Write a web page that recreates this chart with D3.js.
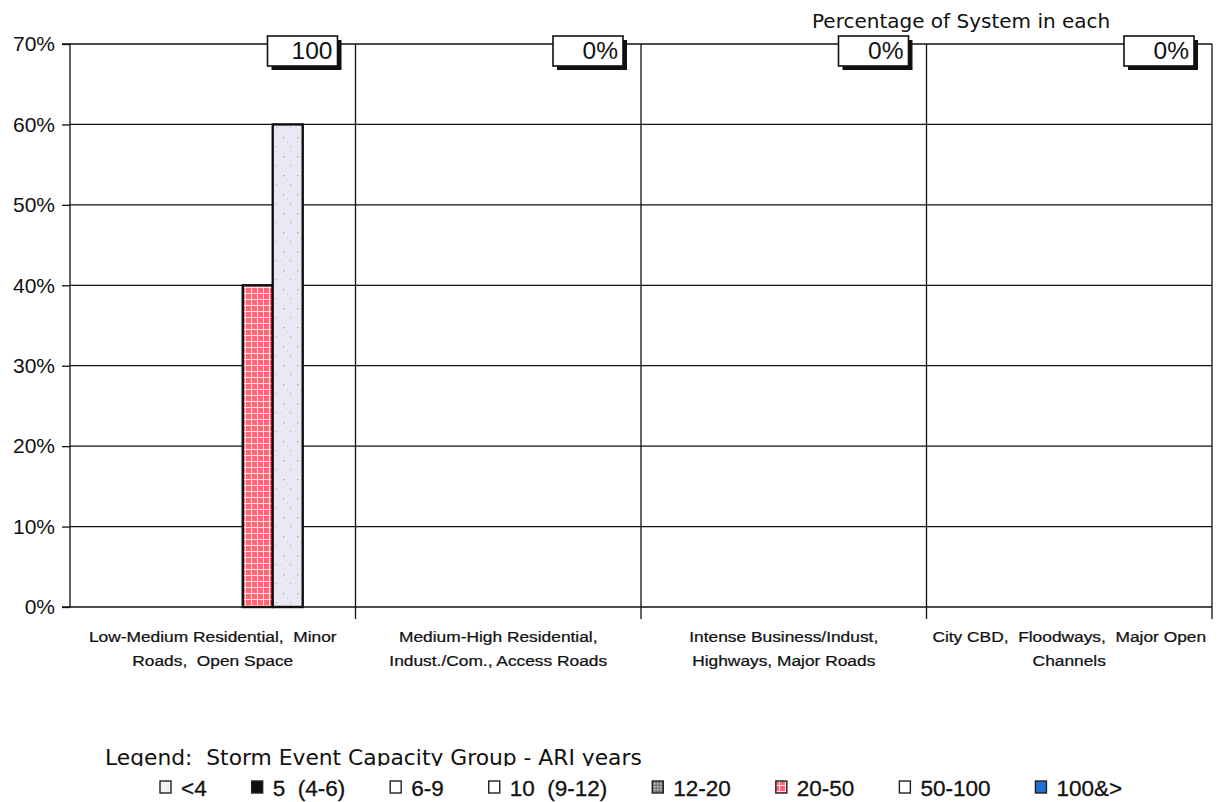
<!DOCTYPE html>
<html><head><meta charset="utf-8">
<script src="https://cdn.jsdelivr.net/npm/d3@7"></script>
<style>html,body{margin:0;padding:0;background:#fff;}svg{display:block;}</style>
</head><body>
<script>
const categories = [
  ["Low-Medium Residential,  Minor", "Roads,  Open Space"],
  ["Medium-High Residential,", "Indust./Com., Access Roads"],
  ["Intense Business/Indust,", "Highways, Major Roads"],
  ["City CBD,  Floodways,  Major Open", "Channels"]
];
const series = ["<4", "5  (4-6)", "6-9", "10  (9-12)", "12-20", "20-50", "50-100", "100&>"];
const values = [
  [0, 0, 0, 0, 0, 40, 60, 0],
  [0, 0, 0, 0, 0, 0, 0, 0],
  [0, 0, 0, 0, 0, 0, 0, 0],
  [0, 0, 0, 0, 0, 0, 0, 0]
];
const totalLabels = ["100", "0%", "0%", "0%"];
const yTicks = [0, 10, 20, 30, 40, 50, 60, 70];
const titleText = "Percentage of System in each";
const legendTitle = "Legend:  Storm Event Capacity Group - ARI years";

const W = 1218, H = 802;
const svg = d3.select("body").append("svg").attr("width", W).attr("height", H);
const defs = svg.append("defs");

// patterns
const pRed = defs.append("pattern").attr("id", "pRed").attr("patternUnits", "userSpaceOnUse")
  .attr("width", 6).attr("height", 6);
pRed.append("rect").attr("width", 6).attr("height", 6).attr("fill", "#fbe9ec");
pRed.append("rect").attr("width", 5).attr("height", 5).attr("fill", "#ff6673");
const pLav = defs.append("pattern").attr("id", "pLav").attr("patternUnits", "userSpaceOnUse")
  .attr("width", 14).attr("height", 19);
pLav.append("rect").attr("width", 14).attr("height", 19).attr("fill", "#e9e9f5");
pLav.append("rect").attr("x", 3).attr("y", 4).attr("width", 1.3).attr("height", 1.3).attr("fill", "#f07c8c");
pLav.append("rect").attr("x", 10).attr("y", 13).attr("width", 1.3).attr("height", 1.3).attr("fill", "#f5a0ae");
pLav.append("rect").attr("x", 7).attr("y", 9).attr("width", 1).attr("height", 1).attr("fill", "#f4b4c0");
const pGray = defs.append("pattern").attr("id", "pGray").attr("patternUnits", "userSpaceOnUse")
  .attr("width", 3).attr("height", 3);
pGray.append("rect").attr("width", 3).attr("height", 3).attr("fill", "#777");
pGray.append("rect").attr("width", 1.5).attr("height", 1.5).attr("fill", "#ccc");

const fills = ["#f0f0f0", "#111", "#fff", "#fff", "url(#pGray)", "url(#pRed)", "#fff", "#1f6fd6"];
const barFills = ["#f0f0f0", "#111", "#fff", "#fff", "url(#pGray)", "url(#pRed)", "url(#pLav)", "#1f6fd6"];

const plot = {left: 70, right: 1212, top: 44, bottom: 607};
const x = d3.scaleBand().domain(d3.range(categories.length)).range([plot.left, plot.right]);
const xs = d3.scaleBand().domain(d3.range(series.length)).range([0, x.bandwidth()])
  .paddingInner(0).paddingOuter(0.76);
const y = d3.scaleLinear().domain([0, 70]).range([plot.bottom, plot.top]);

// gridlines
svg.append("g").selectAll("line").data(yTicks.filter(d => d > 0)).join("line")
  .attr("x1", plot.left).attr("x2", plot.right)
  .attr("y1", d => y(d)).attr("y2", d => y(d))
  .attr("stroke", "#111").attr("stroke-width", 1.3);

// vertical separators
svg.append("g").selectAll("line").data(d3.range(1, categories.length + 1)).join("line")
  .attr("x1", d => d < categories.length ? x(d) : plot.right)
  .attr("x2", d => d < categories.length ? x(d) : plot.right)
  .attr("y1", plot.top).attr("y2", plot.bottom + 12)
  .attr("stroke", "#111").attr("stroke-width", 1.3);

// y axis
const yAxis = d3.axisLeft(y).tickValues(yTicks).tickFormat(d => d + "%").tickSize(8).tickPadding(7);
const gy = svg.append("g").attr("transform", `translate(${plot.left},0)`).call(yAxis);
gy.select(".domain").attr("stroke", "#111").attr("stroke-width", 1.3).attr("d", `M-8,${plot.top}H0V${plot.bottom}`);
gy.selectAll(".tick line").attr("stroke", "#111").attr("stroke-width", 1.3);
gy.selectAll("text").attr("font-family", "Liberation Sans, Arial, sans-serif").attr("font-size", 21).attr("fill", "#111");

// x axis baseline
svg.append("line").attr("x1", plot.left - 8).attr("x2", plot.right)
  .attr("y1", plot.bottom).attr("y2", plot.bottom).attr("stroke", "#111").attr("stroke-width", 1.5);

// bars
const gBars = svg.append("g");
values.forEach((vals, ci) => {
  gBars.selectAll(null).data(vals.map((v, si) => ({v, si})).filter(d => d.v > 0)).join("rect")
    .attr("x", d => x(ci) + xs(d.si))
    .attr("width", xs.bandwidth())
    .attr("y", d => y(d.v))
    .attr("height", d => y(0) - y(d.v))
    .attr("fill", d => barFills[d.si])
    .attr("stroke", "#111").attr("stroke-width", 2.4);
});

// total label boxes
const gBox = svg.append("g");
totalLabels.forEach((t, ci) => {
  const bw = 70, bh = 30, bx = x(ci) + x.bandwidth() - 18 - bw, by = 36;
  gBox.append("rect").attr("x", bx + 4).attr("y", by + 4).attr("width", bw).attr("height", bh).attr("fill", "#111");
  gBox.append("rect").attr("x", bx).attr("y", by).attr("width", bw).attr("height", bh)
    .attr("fill", "#fff").attr("stroke", "#111").attr("stroke-width", 1.6);
  gBox.append("text").attr("x", bx + bw - 5).attr("y", by + 23).attr("text-anchor", "end")
    .attr("font-family", "Liberation Sans, Arial, sans-serif").attr("font-size", 24.5).attr("fill", "#111").text(t);
});

// category labels (slightly wide, like the scan)
const gCat = svg.append("g").attr("font-family", "Liberation Sans, Arial, sans-serif").attr("font-size", 15.5)
  .attr("fill", "#111").attr("stroke", "#111").attr("stroke-width", 0.25);
categories.forEach((lines, ci) => {
  lines.forEach((ln, li) => {
    gCat.append("text")
      .attr("transform", `translate(${x(ci) + x.bandwidth() / 2},${642 + li * 24}) scale(1.12,1)`)
      .attr("text-anchor", "middle").style("white-space", "pre").text(ln);
  });
});

// title
svg.append("text").attr("x", 812).attr("y", 28).attr("font-family", "DejaVu Sans, Verdana, sans-serif")
  .attr("font-size", 20).attr("fill", "#111").text(titleText);

// legend title (clipped at baseline like the original)
defs.append("clipPath").attr("id", "clipLeg").append("rect").attr("x", 0).attr("y", 730).attr("width", W).attr("height", 36);
svg.append("text").attr("x", 105).attr("y", 765).attr("clip-path", "url(#clipLeg)")
  .attr("font-family", "DejaVu Sans, Verdana, sans-serif").attr("font-size", 21.8).attr("fill", "#111")
  .style("white-space", "pre").text(legendTitle);

// legend items
const gLeg = svg.append("g").attr("font-family", "Liberation Sans, Arial, sans-serif").attr("font-size", 22.5)
  .attr("fill", "#111").attr("stroke", "#111").attr("stroke-width", 0.3);
let lx = 160;
series.forEach((s, i) => {
  gLeg.append("rect").attr("x", lx).attr("y", 781).attr("width", 11).attr("height", 12)
    .attr("fill", fills[i]).attr("stroke", "#222").attr("stroke-width", 1.4);
  const t = gLeg.append("text").attr("x", lx + 21).attr("y", 796).style("white-space", "pre").text(s);
  lx += 21 + t.node().getComputedTextLength() + 45;
});
</script>
</body></html>
